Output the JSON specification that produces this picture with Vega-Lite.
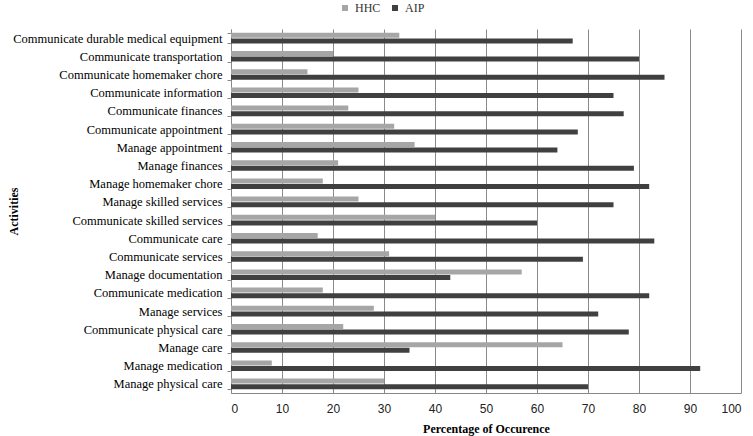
{
  "$schema": "https://vega.github.io/schema/vega-lite/v6.json",
  "width": 510,
  "height": 364,
  "autosize": {"type": "none"},
  "padding": {"left": 231, "top": 29, "right": 12, "bottom": 43},
  "background": "white",
  "data": {
    "values": [
      {"activity": "Communicate durable medical equipment", "group": "HHC", "value": 33},
      {"activity": "Communicate durable medical equipment", "group": "AIP", "value": 67},
      {"activity": "Communicate transportation", "group": "HHC", "value": 20},
      {"activity": "Communicate transportation", "group": "AIP", "value": 80},
      {"activity": "Communicate homemaker chore", "group": "HHC", "value": 15},
      {"activity": "Communicate homemaker chore", "group": "AIP", "value": 85},
      {"activity": "Communicate information", "group": "HHC", "value": 25},
      {"activity": "Communicate information", "group": "AIP", "value": 75},
      {"activity": "Communicate finances", "group": "HHC", "value": 23},
      {"activity": "Communicate finances", "group": "AIP", "value": 77},
      {"activity": "Communicate appointment", "group": "HHC", "value": 32},
      {"activity": "Communicate appointment", "group": "AIP", "value": 68},
      {"activity": "Manage appointment", "group": "HHC", "value": 36},
      {"activity": "Manage appointment", "group": "AIP", "value": 64},
      {"activity": "Manage finances", "group": "HHC", "value": 21},
      {"activity": "Manage finances", "group": "AIP", "value": 79},
      {"activity": "Manage homemaker chore", "group": "HHC", "value": 18},
      {"activity": "Manage homemaker chore", "group": "AIP", "value": 82},
      {"activity": "Manage skilled services", "group": "HHC", "value": 25},
      {"activity": "Manage skilled services", "group": "AIP", "value": 75},
      {"activity": "Communicate skilled services", "group": "HHC", "value": 40},
      {"activity": "Communicate skilled services", "group": "AIP", "value": 60},
      {"activity": "Communicate care", "group": "HHC", "value": 17},
      {"activity": "Communicate care", "group": "AIP", "value": 83},
      {"activity": "Communicate services", "group": "HHC", "value": 31},
      {"activity": "Communicate services", "group": "AIP", "value": 69},
      {"activity": "Manage documentation", "group": "HHC", "value": 57},
      {"activity": "Manage documentation", "group": "AIP", "value": 43},
      {"activity": "Communicate medication", "group": "HHC", "value": 18},
      {"activity": "Communicate medication", "group": "AIP", "value": 82},
      {"activity": "Manage services", "group": "HHC", "value": 28},
      {"activity": "Manage services", "group": "AIP", "value": 72},
      {"activity": "Communicate physical care", "group": "HHC", "value": 22},
      {"activity": "Communicate physical care", "group": "AIP", "value": 78},
      {"activity": "Manage care", "group": "HHC", "value": 65},
      {"activity": "Manage care", "group": "AIP", "value": 35},
      {"activity": "Manage medication", "group": "HHC", "value": 8},
      {"activity": "Manage medication", "group": "AIP", "value": 92},
      {"activity": "Manage physical care", "group": "HHC", "value": 30},
      {"activity": "Manage physical care", "group": "AIP", "value": 70}
    ]
  },
  "mark": {"type": "bar"},
  "encoding": {
    "y": {
      "field": "activity",
      "type": "nominal",
      "sort": null,
      "scale": {"paddingInner": 0.42, "paddingOuter": 0.21},
      "axis": {
        "title": "Activities",
        "titleFont": "Liberation Serif",
        "titleFontSize": 12,
        "titleFontWeight": "bold",
        "titleColor": "#000",
        "titleX": -223,
        "titleY": 182,
        "titleBaseline": "top",
        "labelFont": "Liberation Serif",
        "labelFontSize": 12.5,
        "labelLimit": 400,
        "labelColor": "#000",
        "labelPadding": 5,
        "tickBand": "extent",
        "tickSize": 4,
        "tickColor": "#888",
        "domainColor": "#888",
        "grid": false
      }
    },
    "yOffset": {
      "field": "group",
      "type": "nominal",
      "sort": ["HHC", "AIP"],
      "scale": {"paddingInner": 0.1}
    },
    "x": {
      "field": "value",
      "type": "quantitative",
      "scale": {"domain": [0, 100], "nice": false},
      "axis": {
        "title": "Percentage of Occurence",
        "titleFont": "Liberation Serif",
        "titleFontSize": 12,
        "titleFontWeight": "bold",
        "titleColor": "#000",
        "titlePadding": 9,
        "values": [0, 10, 20, 30, 40, 50, 60, 70, 80, 90, 100],
        "labelFont": "Liberation Sans",
        "labelFontSize": 12,
        "labelColor": "#222",
        "labelPadding": 10,
        "ticks": false,
        "grid": true,
        "gridColor": "#8a8a8a",
        "gridOpacity": 1,
        "domainColor": "#888"
      }
    },
    "color": {
      "field": "group",
      "type": "nominal",
      "sort": ["HHC", "AIP"],
      "scale": {"domain": ["HHC", "AIP"], "range": ["#a6a6a6", "#404040"]},
      "legend": {
        "title": null,
        "orient": "none",
        "direction": "horizontal",
        "legendX": 108,
        "legendY": -27,
        "symbolType": "square",
        "symbolSize": 36,
        "labelFont": "Liberation Serif",
        "labelFontSize": 12,
        "labelColor": "#333",
        "columnPadding": 8
      }
    }
  },
  "config": {
    "view": {"stroke": null}
  }
}
